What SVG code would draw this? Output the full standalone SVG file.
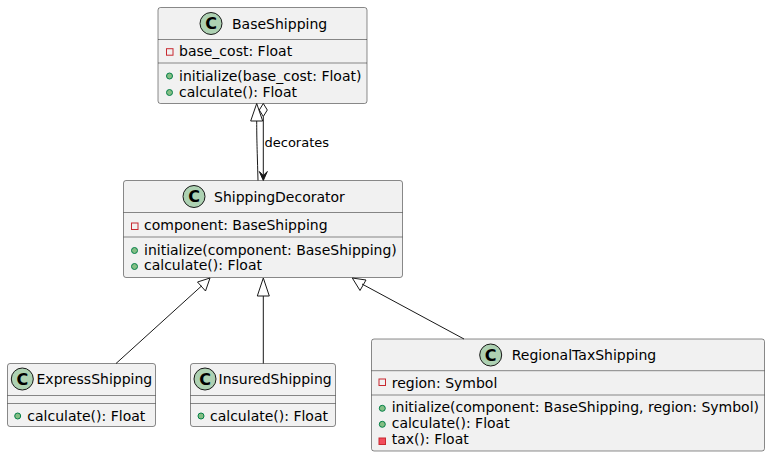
<svg xmlns="http://www.w3.org/2000/svg" width="770" height="457" viewBox="0 0 770 457">
<style>
.box{fill:#F1F1F1;stroke:#181818;stroke-width:0.5}
.sep{stroke:#181818;stroke-width:0.5}
.ci{fill:#ADD1B2;stroke:#181818;stroke-width:1}
.cl{font-family:"DejaVu Sans",sans-serif;font-size:16px;font-weight:bold;fill:#000;text-anchor:middle}
.nm{font-family:"DejaVu Sans",sans-serif;font-size:14px;fill:#000}
.mb{font-family:"DejaVu Sans",sans-serif;font-size:14px;fill:#000}
.pub{fill:#84BE84;stroke:#038048;stroke-width:1}
.priv{fill:none;stroke:#C82930;stroke-width:1}
.privm{fill:#F24D5C;stroke:#C82930;stroke-width:1}
.ln{fill:none;stroke:#181818;stroke-width:1}
.lbl{font-family:"DejaVu Sans",sans-serif;font-size:13px;fill:#000}
</style>
<rect width="770" height="457" fill="#FFFFFF"/>
<g id="BaseShipping">
<rect class="box" x="158" y="7.5" width="209" height="96" rx="2.5"/>
<circle class="ci" cx="211" cy="23.5" r="11"/>
<text class="cl" x="211" y="29.3">C</text>
<text class="nm" x="232" y="28.5">BaseShipping</text>
<line class="sep" x1="158" y1="39.5" x2="367" y2="39.5"/>
<rect class="priv" x="166.5" y="48.7" width="6.5" height="6.5"/>
<text class="mb" x="179" y="55.5">base_cost: Float</text>
<line class="sep" x1="158" y1="63" x2="367" y2="63"/>
<circle class="pub" cx="169.5" cy="76" r="3"/>
<text class="mb" x="179" y="80.5">initialize(base_cost: Float)</text>
<circle class="pub" cx="169.5" cy="92.5" r="3"/>
<text class="mb" x="179" y="97">calculate(): Float</text>
</g>
<g id="ShippingDecorator">
<rect class="box" x="123.5" y="180.5" width="279" height="97" rx="2.5"/>
<circle class="ci" cx="194" cy="196.5" r="11"/>
<text class="cl" x="194" y="202.3">C</text>
<text class="nm" x="214" y="201.5">ShippingDecorator</text>
<line class="sep" x1="123.5" y1="212.5" x2="402.5" y2="212.5"/>
<rect class="priv" x="131.5" y="223" width="6.5" height="6.5"/>
<text class="mb" x="144" y="230">component: BaseShipping</text>
<line class="sep" x1="123.5" y1="237" x2="402.5" y2="237"/>
<circle class="pub" cx="134.5" cy="250.5" r="3"/>
<text class="mb" x="144" y="254.5">initialize(component: BaseShipping)</text>
<circle class="pub" cx="134.5" cy="266.5" r="3"/>
<text class="mb" x="144" y="270">calculate(): Float</text>
</g>
<g id="ExpressShipping">
<rect class="box" x="7.5" y="363.5" width="148" height="63" rx="2.5"/>
<circle class="ci" cx="22.3" cy="379" r="11"/>
<text class="cl" x="22.3" y="384.8">C</text>
<text class="nm" x="36.5" y="384">ExpressShipping</text>
<line class="sep" x1="7.5" y1="395.5" x2="155.5" y2="395.5"/>
<line class="sep" x1="7.5" y1="403.5" x2="155.5" y2="403.5"/>
<circle class="pub" cx="17.7" cy="416" r="3"/>
<text class="mb" x="27.3" y="420.5">calculate(): Float</text>
</g>
<g id="InsuredShipping">
<rect class="box" x="190.5" y="363.5" width="145" height="63" rx="2.5"/>
<circle class="ci" cx="205" cy="379" r="11"/>
<text class="cl" x="205" y="384.8">C</text>
<text class="nm" x="218.5" y="384">InsuredShipping</text>
<line class="sep" x1="190.5" y1="395.5" x2="335.5" y2="395.5"/>
<line class="sep" x1="190.5" y1="403.5" x2="335.5" y2="403.5"/>
<circle class="pub" cx="201" cy="416" r="3"/>
<text class="mb" x="210" y="420.5">calculate(): Float</text>
</g>
<g id="RegionalTaxShipping">
<rect class="box" x="371.5" y="339" width="393" height="112" rx="2.5"/>
<circle class="ci" cx="490.7" cy="355" r="11"/>
<text class="cl" x="490.7" y="360.8">C</text>
<text class="nm" x="511.7" y="359.5">RegionalTaxShipping</text>
<line class="sep" x1="371.5" y1="370.7" x2="764.5" y2="370.7"/>
<rect class="priv" x="379" y="379" width="6.5" height="6.5"/>
<text class="mb" x="391.7" y="387.5">region: Symbol</text>
<line class="sep" x1="371.5" y1="395" x2="764.5" y2="395"/>
<circle class="pub" cx="382.3" cy="408.3" r="3"/>
<text class="mb" x="391.7" y="412">initialize(component: BaseShipping, region: Symbol)</text>
<circle class="pub" cx="382.3" cy="424.3" r="3"/>
<text class="mb" x="391.7" y="427.5">calculate(): Float</text>
<rect class="privm" x="379" y="438" width="6.5" height="6.5"/>
<text class="mb" x="391.7" y="444">tax(): Float</text>
</g>
<g id="connectors">
<path class="ln" d="M258,180.5 C257.2,150 256.7,140 256.7,121"/>
<polygon class="ln" points="256.7,103.5 250.7,121 262.7,121"/>
<polygon class="ln" fill="#FFFFFF" points="263.3,103.5 267.3,110 263.3,116.5 259.3,110"/>
<line class="ln" x1="263.3" y1="116.5" x2="263.3" y2="179"/>
<polygon fill="#181818" stroke="#181818" points="263.3,180.5 259.3,171.5 263.3,175.5 267.3,171.5"/>
<text class="lbl" x="264.5" y="147">decorates</text>
<line class="ln" x1="116" y1="363.5" x2="201.5" y2="286"/>
<polygon class="ln" points="210,278 205.5,291 197.5,282"/>
<line class="ln" x1="263.3" y1="363.5" x2="263.3" y2="296"/>
<polygon class="ln" points="263.3,278 257.3,296 269.3,296"/>
<line class="ln" x1="464" y1="339" x2="362" y2="284"/>
<polygon class="ln" points="352.3,278 366,280 360,290.5"/>
</g>
</svg>
